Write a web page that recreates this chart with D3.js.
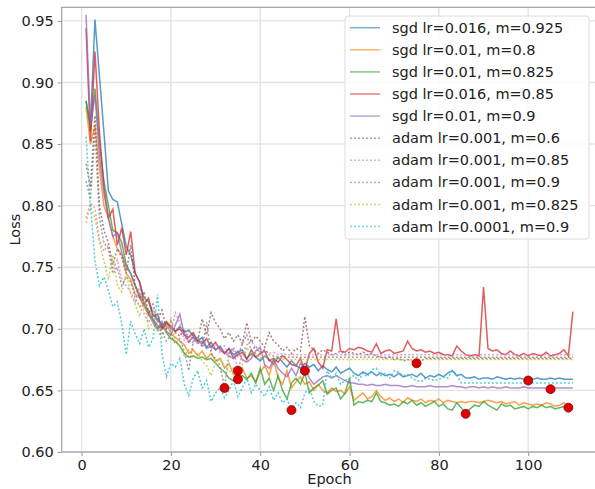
<!DOCTYPE html>
<html>
<head>
<meta charset="utf-8">
<script src="https://cdn.jsdelivr.net/npm/d3@7"></script>
<style>
  body { margin: 0; background: #fff; }
  text { font-family: "DejaVu Sans", sans-serif; }
</style>
</head>
<body>
<div id="chart"></div>
<script>
// loss per epoch (epochs 1..110)
var sgd_016_925 = [
  0.885, 0.866, 0.951, 0.905, 0.860, 0.812, 0.805, 0.803, 0.785, 0.767,
  0.760, 0.745, 0.738, 0.725, 0.722, 0.712, 0.708, 0.703, 0.706, 0.700,
  0.698, 0.702, 0.697, 0.699, 0.694, 0.690, 0.693, 0.685, 0.689, 0.683,
  0.686, 0.680, 0.684, 0.679, 0.681, 0.683, 0.676, 0.680, 0.677, 0.674,
  0.678, 0.675, 0.671, 0.677, 0.673, 0.669, 0.674, 0.670, 0.668, 0.672,
  0.669, 0.671, 0.666, 0.670, 0.667, 0.665, 0.669, 0.664, 0.666, 0.668,
  0.664, 0.662, 0.665, 0.663, 0.665, 0.662, 0.664, 0.662, 0.663, 0.661,
  0.664, 0.661, 0.662, 0.663, 0.661, 0.664, 0.660, 0.662, 0.661, 0.663,
  0.661, 0.664, 0.666, 0.662, 0.663, 0.660, 0.660, 0.661, 0.659, 0.660,
  0.660, 0.659, 0.661, 0.660, 0.659, 0.660, 0.659, 0.660, 0.659, 0.658,
  0.659, 0.660, 0.659, 0.659, 0.660, 0.659, 0.660, 0.659, 0.659, 0.659]
var sgd_01_8 = [
  0.880, 0.850, 0.865, 0.830, 0.800, 0.790, 0.775, 0.765, 0.760, 0.745,
  0.740, 0.728, 0.725, 0.718, 0.712, 0.708, 0.703, 0.700, 0.705, 0.696,
  0.693, 0.690, 0.687, 0.680, 0.683, 0.678, 0.682, 0.676, 0.680, 0.674,
  0.676, 0.668, 0.672, 0.663, 0.661, 0.668, 0.660, 0.662, 0.657, 0.665,
  0.670, 0.662, 0.675, 0.660, 0.655, 0.666, 0.652, 0.657, 0.661, 0.655,
  0.657, 0.650, 0.655, 0.650, 0.648, 0.652, 0.649, 0.650, 0.647, 0.653,
  0.642, 0.645, 0.648, 0.643, 0.645, 0.650, 0.645, 0.642, 0.644, 0.641,
  0.643, 0.640, 0.644, 0.642, 0.641, 0.643, 0.640, 0.642, 0.641, 0.643,
  0.640, 0.642, 0.641, 0.640, 0.641, 0.640, 0.641, 0.641, 0.640, 0.641,
  0.642, 0.641, 0.640, 0.641, 0.639, 0.640, 0.641, 0.638, 0.640, 0.639,
  0.638, 0.639, 0.638, 0.640, 0.639, 0.637, 0.638, 0.640, 0.636, 0.637]
var sgd_01_825 = [
  0.885, 0.860, 0.895, 0.850, 0.820, 0.800, 0.780, 0.778, 0.770, 0.752,
  0.745, 0.735, 0.728, 0.720, 0.715, 0.707, 0.700, 0.703, 0.697, 0.692,
  0.690, 0.686, 0.680, 0.677, 0.678, 0.676, 0.677, 0.675, 0.676, 0.672,
  0.668, 0.665, 0.660, 0.658, 0.661, 0.662, 0.659, 0.664, 0.656, 0.668,
  0.655, 0.660, 0.650, 0.662, 0.650, 0.643, 0.656, 0.660, 0.655, 0.664,
  0.648, 0.652, 0.654, 0.658, 0.647, 0.650, 0.652, 0.643, 0.648, 0.660,
  0.638, 0.641, 0.640, 0.642, 0.641, 0.648, 0.641, 0.640, 0.638, 0.639,
  0.637, 0.641, 0.639, 0.642, 0.638, 0.640, 0.637, 0.639, 0.641, 0.637,
  0.639, 0.635, 0.634, 0.640, 0.636, 0.631, 0.635, 0.638, 0.637, 0.641,
  0.638, 0.636, 0.634, 0.639, 0.637, 0.638, 0.635, 0.636, 0.637, 0.635,
  0.637, 0.636, 0.638, 0.636, 0.637, 0.635, 0.636, 0.637, 0.636, 0.637]
var sgd_016_85 = [
  0.944, 0.852, 0.925, 0.860, 0.815, 0.790, 0.797, 0.768, 0.782, 0.760,
  0.779, 0.745, 0.738, 0.720, 0.725, 0.710, 0.712, 0.700, 0.705, 0.702,
  0.698, 0.700, 0.695, 0.693, 0.697, 0.690, 0.688, 0.692, 0.685, 0.689,
  0.683, 0.680, 0.684, 0.676, 0.679, 0.681, 0.675, 0.683, 0.677, 0.680,
  0.682, 0.674, 0.676, 0.673, 0.678, 0.675, 0.671, 0.670, 0.676, 0.666,
  0.680, 0.684, 0.673, 0.668, 0.683, 0.682, 0.708, 0.682, 0.681, 0.684,
  0.683, 0.685, 0.684, 0.682, 0.681, 0.688, 0.680, 0.682, 0.683, 0.680,
  0.681, 0.682, 0.690, 0.684, 0.682, 0.683, 0.681, 0.682, 0.680, 0.681,
  0.679, 0.679, 0.678, 0.686, 0.682, 0.679, 0.678, 0.679, 0.678, 0.734,
  0.684, 0.682, 0.683, 0.680, 0.679, 0.682, 0.679, 0.678, 0.680, 0.678,
  0.680, 0.679, 0.678, 0.681, 0.678, 0.679, 0.680, 0.683, 0.678, 0.714]
var sgd_01_9 = [
  0.955, 0.865, 0.890, 0.840, 0.810, 0.790, 0.775, 0.778, 0.762, 0.750,
  0.745, 0.735, 0.725, 0.720, 0.712, 0.705, 0.700, 0.706, 0.698, 0.695,
  0.703, 0.712, 0.695, 0.690, 0.693, 0.688, 0.690, 0.684, 0.686, 0.683,
  0.685, 0.681, 0.678, 0.676, 0.682, 0.675, 0.673, 0.676, 0.682, 0.685,
  0.671, 0.668, 0.675, 0.668, 0.664, 0.661, 0.668, 0.662, 0.672, 0.668,
  0.660, 0.655, 0.658, 0.661, 0.662, 0.660, 0.662, 0.660, 0.658, 0.656,
  0.656, 0.655, 0.655, 0.654, 0.655, 0.654, 0.654, 0.655, 0.654, 0.654,
  0.654, 0.653, 0.653, 0.654, 0.653, 0.653, 0.653, 0.654, 0.653, 0.653,
  0.653, 0.653, 0.654, 0.653, 0.653, 0.652, 0.653, 0.653, 0.652, 0.653,
  0.652, 0.653, 0.652, 0.652, 0.653, 0.652, 0.652, 0.652, 0.653, 0.652,
  0.652, 0.652, 0.652, 0.652, 0.651, 0.652, 0.652, 0.652, 0.652, 0.652]
var adam_001_6 = [
  0.834, 0.815, 0.873, 0.800, 0.780, 0.770, 0.752, 0.765, 0.758, 0.745,
  0.768, 0.735, 0.725, 0.730, 0.712, 0.720, 0.705, 0.715, 0.700, 0.706,
  0.697, 0.694, 0.700, 0.688, 0.695, 0.690, 0.708, 0.695, 0.713, 0.705,
  0.700, 0.692, 0.697, 0.690, 0.695, 0.688, 0.705, 0.689, 0.694, 0.690,
  0.685, 0.697, 0.690, 0.687, 0.682, 0.685, 0.680, 0.684, 0.682, 0.710,
  0.686, 0.683, 0.680, 0.683, 0.681, 0.679, 0.680, 0.682, 0.679, 0.681,
  0.680, 0.679, 0.681, 0.679, 0.680, 0.678, 0.677, 0.676, 0.677, 0.675,
  0.676, 0.674, 0.675, 0.674, 0.672, 0.674, 0.676, 0.676, 0.676, 0.676,
  0.676, 0.676, 0.676, 0.676, 0.676, 0.676, 0.676, 0.676, 0.676, 0.676,
  0.676, 0.676, 0.676, 0.676, 0.676, 0.676, 0.676, 0.676, 0.676, 0.676,
  0.676, 0.676, 0.676, 0.676, 0.676, 0.676, 0.676, 0.676, 0.676, 0.676]
var adam_001_85 = [
  0.790, 0.802, 0.798, 0.772, 0.763, 0.768, 0.748, 0.756, 0.740, 0.735,
  0.730, 0.722, 0.735, 0.712, 0.705, 0.715, 0.700, 0.695, 0.703, 0.698,
  0.713, 0.705, 0.690, 0.698, 0.688, 0.694, 0.685, 0.692, 0.683, 0.688,
  0.681, 0.686, 0.679, 0.684, 0.666, 0.680, 0.687, 0.690, 0.684, 0.681,
  0.683, 0.680, 0.681, 0.679, 0.680, 0.679, 0.679, 0.679, 0.679, 0.679,
  0.679, 0.679, 0.679, 0.679, 0.679, 0.679, 0.679, 0.679, 0.679, 0.679,
  0.679, 0.679, 0.679, 0.679, 0.679, 0.679, 0.679, 0.679, 0.679, 0.679,
  0.679, 0.679, 0.679, 0.679, 0.679, 0.679, 0.679, 0.679, 0.679, 0.679,
  0.679, 0.679, 0.679, 0.679, 0.679, 0.679, 0.679, 0.679, 0.679, 0.679,
  0.679, 0.679, 0.679, 0.679, 0.679, 0.679, 0.679, 0.679, 0.679, 0.679,
  0.679, 0.679, 0.679, 0.679, 0.679, 0.679, 0.679, 0.679, 0.679, 0.679]
var adam_001_9 = [
  0.820, 0.805, 0.860, 0.790, 0.770, 0.765, 0.745, 0.750, 0.735, 0.742,
  0.738, 0.725, 0.718, 0.722, 0.710, 0.708, 0.702, 0.698, 0.690, 0.695,
  0.688, 0.692, 0.682, 0.666, 0.690, 0.694, 0.685, 0.705, 0.680, 0.676,
  0.670, 0.652, 0.680, 0.685, 0.678, 0.688, 0.695, 0.682, 0.686, 0.680,
  0.683, 0.679, 0.678, 0.677, 0.678, 0.677, 0.677, 0.677, 0.677, 0.677,
  0.677, 0.677, 0.677, 0.677, 0.677, 0.677, 0.677, 0.677, 0.677, 0.677,
  0.677, 0.677, 0.677, 0.677, 0.677, 0.677, 0.677, 0.677, 0.677, 0.677,
  0.677, 0.677, 0.677, 0.677, 0.677, 0.677, 0.677, 0.677, 0.677, 0.677,
  0.677, 0.677, 0.677, 0.677, 0.677, 0.677, 0.677, 0.677, 0.677, 0.677,
  0.677, 0.677, 0.677, 0.677, 0.677, 0.677, 0.677, 0.677, 0.677, 0.677,
  0.677, 0.677, 0.677, 0.677, 0.677, 0.677, 0.677, 0.677, 0.677, 0.677]
var adam_001_825 = [
  0.786, 0.800, 0.790, 0.770, 0.755, 0.740, 0.760, 0.735, 0.730, 0.745,
  0.728, 0.720, 0.710, 0.725, 0.700, 0.705, 0.698, 0.693, 0.700, 0.708,
  0.690, 0.685, 0.678, 0.683, 0.676, 0.680, 0.674, 0.670, 0.662, 0.672,
  0.676, 0.670, 0.665, 0.668, 0.659, 0.672, 0.685, 0.678, 0.680, 0.676,
  0.678, 0.676, 0.675, 0.676, 0.675, 0.675, 0.675, 0.675, 0.675, 0.675,
  0.675, 0.675, 0.675, 0.675, 0.675, 0.675, 0.675, 0.675, 0.675, 0.675,
  0.675, 0.675, 0.675, 0.675, 0.675, 0.675, 0.675, 0.675, 0.675, 0.675,
  0.675, 0.675, 0.675, 0.675, 0.675, 0.675, 0.675, 0.675, 0.675, 0.675,
  0.675, 0.675, 0.675, 0.675, 0.675, 0.675, 0.675, 0.675, 0.675, 0.675,
  0.675, 0.675, 0.675, 0.675, 0.675, 0.675, 0.675, 0.675, 0.675, 0.675,
  0.675, 0.675, 0.675, 0.675, 0.675, 0.675, 0.675, 0.675, 0.675, 0.675]
var adam_0001_9 = [
  0.856, 0.800, 0.755, 0.735, 0.742, 0.731, 0.718, 0.722, 0.704, 0.679,
  0.706, 0.696, 0.688, 0.700, 0.685, 0.692, 0.728, 0.680, 0.661, 0.672,
  0.669, 0.676, 0.655, 0.646, 0.660, 0.666, 0.652, 0.658, 0.641, 0.648,
  0.652, 0.644, 0.650, 0.658, 0.645, 0.652, 0.660, 0.648, 0.655, 0.650,
  0.645, 0.653, 0.642, 0.648, 0.640, 0.643, 0.634, 0.640, 0.636, 0.648,
  0.652, 0.641, 0.637, 0.638, 0.666, 0.660, 0.664, 0.655, 0.658, 0.660,
  0.662, 0.658, 0.664, 0.661, 0.667, 0.668, 0.662, 0.664, 0.660, 0.666,
  0.665, 0.662, 0.663, 0.660, 0.658, 0.657, 0.660, 0.659, 0.658, 0.659,
  0.661, 0.660, 0.666, 0.663, 0.656, 0.656, 0.656, 0.656, 0.656, 0.656,
  0.656, 0.656, 0.656, 0.656, 0.656, 0.656, 0.656, 0.656, 0.656, 0.656,
  0.656, 0.656, 0.656, 0.656, 0.656, 0.656, 0.656, 0.656, 0.656, 0.656]

var labels = ["sgd lr=0.016, m=0.925", "sgd lr=0.01, m=0.8", "sgd lr=0.01, m=0.825",
  "sgd lr=0.016, m=0.85", "sgd lr=0.01, m=0.9", "adam lr=0.001, m=0.6",
  "adam lr=0.001, m=0.85", "adam lr=0.001, m=0.9", "adam lr=0.001, m=0.825",
  "adam lr=0.0001, m=0.9"]
var seriesValues = [sgd_016_925, sgd_01_8, sgd_01_825, sgd_016_85, sgd_01_9,
  adam_001_6, adam_001_85, adam_001_9, adam_001_825, adam_0001_9]
var xTicks = [0, 20, 40, 60, 80, 100]
var yTicks = [0.60, 0.65, 0.70, 0.75, 0.80, 0.85, 0.90, 0.95]

var colors = d3.schemeCategory10

var width = 595, height = 489
var margin = {top: 7.3, left: 61.7, bottom: 37}
var plotRight = 597.2

var svg = d3.select("#chart")
  .append("svg")
    .attr("width", width)
    .attr("height", height)

var x = d3.scaleLinear()
  .domain([-4.45, 115.45])
  .range([margin.left, plotRight])
var y = d3.scaleLinear()
  .domain([0.6, 0.961])
  .range([height - margin.bottom, margin.top])

// grid
svg.append("g")
  .selectAll("line")
  .data(xTicks)
  .enter()
  .append("line")
    .attr("x1", function(d) { return x(d) })
    .attr("x2", function(d) { return x(d) })
    .attr("y1", y.range()[0])
    .attr("y2", y.range()[1])
    .attr("stroke", "#e3e3e3")
    .attr("stroke-width", 1.4)
svg.append("g")
  .selectAll("line")
  .data(yTicks)
  .enter()
  .append("line")
    .attr("x1", margin.left)
    .attr("x2", plotRight)
    .attr("y1", function(d) { return y(d) })
    .attr("y2", function(d) { return y(d) })
    .attr("stroke", "#e3e3e3")
    .attr("stroke-width", 1.4)

// axes
svg.append("g")
  .attr("transform", "translate(0," + y.range()[0] + ")")
  .call(d3.axisBottom(x).tickValues(xTicks).tickSize(4).tickPadding(4).tickFormat(d3.format("d")))
svg.append("g")
  .attr("transform", "translate(" + margin.left + ",0)")
  .call(d3.axisLeft(y).tickValues(yTicks).tickSize(4).tickPadding(4).tickFormat(d3.format(".2f")))
svg.selectAll(".domain").remove()
svg.selectAll(".tick line").attr("stroke", "#999")
svg.selectAll(".tick text")
  .attr("fill", "#222")
  .style("font-size", "14.5px")
  .style("font-family", "DejaVu Sans")

// spines
svg.append("rect")
  .attr("x", margin.left)
  .attr("y", margin.top)
  .attr("width", plotRight - margin.left)
  .attr("height", y.range()[0] - margin.top)
  .attr("fill", "none")
  .attr("stroke", "#a0a0a0")
  .attr("stroke-width", 1.2)

// lines
var line = d3.line()
  .x(function(d, i) { return x(i + 1) })
  .y(function(d) { return y(d) })

svg.append("g")
  .selectAll("path")
  .data(seriesValues)
  .enter()
  .append("path")
    .attr("d", line)
    .attr("fill", "none")
    .attr("stroke", function(d, i) { return colors[i] })
    .attr("stroke-width", 1.5)
    .attr("stroke-opacity", 0.75)
    .attr("stroke-dasharray", function(d, i) { return i >= 5 ? "2,2" : null })

// best epoch of each run
svg.append("g")
  .selectAll("circle")
  .data(seriesValues)
  .enter()
  .append("circle")
    .attr("cx", function(d) { return x(d3.minIndex(d) + 1) })
    .attr("cy", function(d) { return y(d3.min(d)) })
    .attr("r", 4.5)
    .attr("fill", "#e00000")
    .attr("stroke", "#8b0000")
    .attr("stroke-width", 0.8)

// axis labels
svg.append("text")
  .attr("x", (margin.left + plotRight) / 2)
  .attr("y", 484)
  .attr("text-anchor", "middle")
  .style("font-size", "14.5px")
  .attr("fill", "#222")
  .text("Epoch")
svg.append("text")
  .attr("transform", "translate(20," + (y.range()[0] + margin.top) / 2 + ")rotate(-90)")
  .attr("text-anchor", "middle")
  .style("font-size", "14.5px")
  .attr("fill", "#222")
  .text("Loss")

// legend
var legend = svg.append("g")
legend.append("rect")
  .attr("x", 345)
  .attr("y", 16)
  .attr("width", 244)
  .attr("height", 223)
  .attr("rx", 3)
  .attr("fill", "#fff")
  .attr("fill-opacity", 0.85)
  .attr("stroke", "#dcdcdc")

var rows = legend.selectAll(".row")
  .data(labels)
  .enter()
  .append("g")
    .attr("transform", function(d, i) { return "translate(0," + (27.7 + i * 22.1) + ")" })
rows.append("line")
  .attr("x1", 350)
  .attr("x2", 380)
  .attr("stroke", function(d, i) { return colors[i] })
  .attr("stroke-width", 1.5)
  .attr("stroke-opacity", 0.6)
  .attr("stroke-dasharray", function(d, i) { return i >= 5 ? "2,2" : null })
rows.append("text")
  .attr("x", 392)
  .attr("dy", "0.35em")
  .style("font-size", "14.5px")
  .attr("fill", "#222")
  .text(function(d) { return d })
</script>
</body>
</html>
